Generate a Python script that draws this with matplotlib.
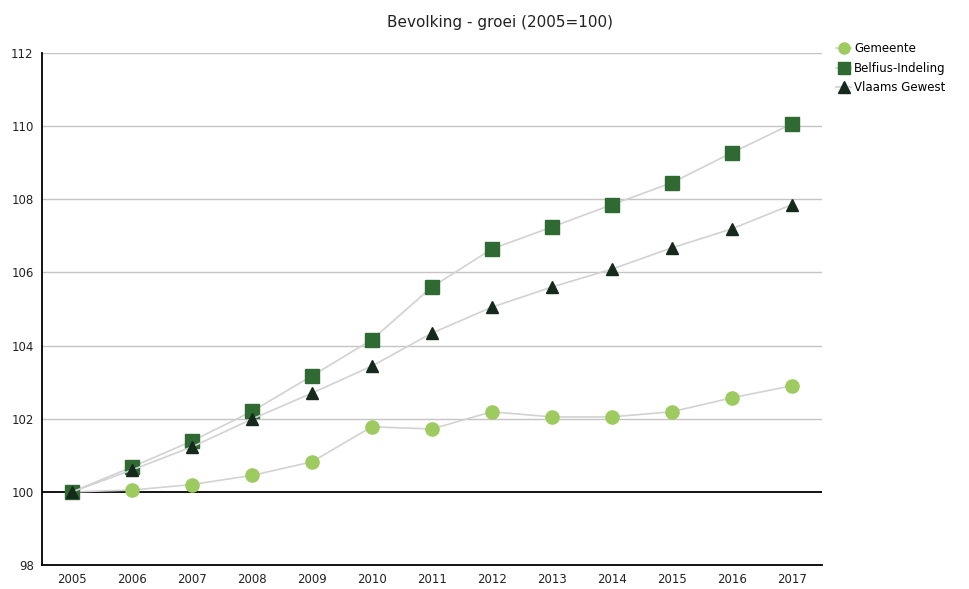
import matplotlib
matplotlib.use("Agg")
import matplotlib.pyplot as plt

years = [2005, 2006, 2007, 2008, 2009, 2010, 2011, 2012, 2013, 2014, 2015, 2016, 2017]
gemeente = [100.0, 100.05, 100.2, 100.45, 100.82, 101.78, 101.72, 102.19, 102.05, 102.05, 102.19, 102.57, 102.9]
belfius = [100.0, 100.68, 101.39, 102.2, 103.17, 104.16, 105.6, 106.64, 107.24, 107.85, 108.45, 109.27, 110.06]
vlaams = [100.0, 100.6, 101.23, 101.99, 102.7, 103.44, 104.34, 105.05, 105.6, 106.09, 106.67, 107.19, 107.85]
yticks = [98, 100, 102, 104, 106, 108, 110, 112]

fig = plt.figure(figsize=(9.7, 5.89), dpi=100)
ax = fig.add_axes([0.0433, 0.0407, 0.8037, 0.8693])

for y in yticks:
    if y == 100:
        ax.axhline(y, color="black", lw=1.3, zorder=1)
    elif y != 98:
        ax.axhline(y, color="#c4c4c4", lw=1.0, zorder=0)

ax.plot(years, gemeente, color="#d2d2d2", lw=1.2, marker="o", markersize=9.5,
        markerfacecolor="#9dcb5f", markeredgecolor="#9dcb5f", label="Gemeente", zorder=3)
ax.plot(years, belfius, color="#d2d2d2", lw=1.2, marker="s", markersize=9.5,
        markerfacecolor="#2f6a33", markeredgecolor="#2f6a33", label="Belfius-Indeling", zorder=4)
ax.plot(years, vlaams, color="#d2d2d2", lw=1.2, marker="^", markersize=8,
        markerfacecolor="#152a1c", markeredgecolor="#152a1c", label="Vlaams Gewest", zorder=5)

ax.set_xlim(2004.5, 2017.5)
ax.set_ylim(98, 112)
ax.set_xticks(years)
ax.set_xticklabels([str(y) for y in years], fontsize=8.5, color="#222222")
ax.set_yticks(yticks)
ax.set_yticklabels([str(y) for y in yticks], fontsize=8.5, color="#222222")
ax.tick_params(length=0, pad=6)
for s in ["top", "right"]:
    ax.spines[s].set_visible(False)
ax.spines["left"].set_color("black")
ax.spines["bottom"].set_color("black")
ax.spines["left"].set_linewidth(1.3)
ax.spines["bottom"].set_linewidth(1.3)

fig.text(0.515, 0.962, "Bevolking - groei (2005=100)", ha="center", va="center", fontsize=11, color="#222222")

leg = ax.legend(loc="upper left", bbox_to_anchor=(1.01, 1.035), frameon=False, fontsize=8.5,
                handlelength=1.2, handletextpad=0.3, labelspacing=0.55, borderaxespad=0.2)
for h in leg.legend_handles:
    h.set_markersize(8)

fig.savefig("out.png", dpi=100)
